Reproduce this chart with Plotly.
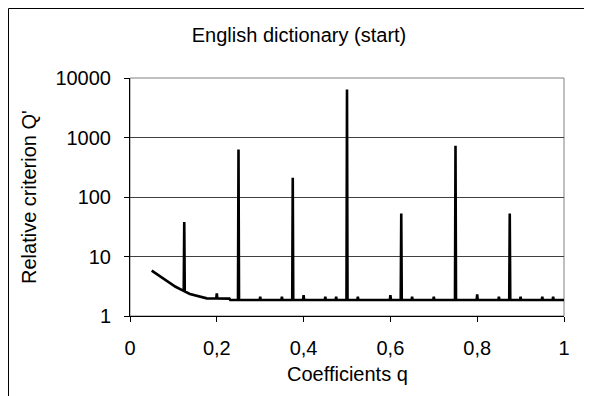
import numpy as np
import plotly.graph_objects as go

# Baseline (smooth part)
q_base = [0.05, 0.06, 0.069, 0.08, 0.092, 0.105, 0.119, 0.138, 0.161, 0.177, 0.229, 0.231, 1.0]
Q_base = [5.8, 5.15, 4.6, 4.05, 3.55, 3.1, 2.75, 2.34, 2.11, 1.98, 1.96, 1.86, 1.86]

# Spikes (q position, peak value)
spike_q = [0.125, 0.2, 0.25, 0.3, 0.35, 0.375, 0.4, 0.45, 0.475, 0.5, 0.525,
           0.6, 0.625, 0.65, 0.7, 0.75, 0.8, 0.85, 0.875, 0.9, 0.95, 0.975]
spike_Q = [38, 2.4, 630, 2.1, 2.1, 210, 2.25, 2.1, 2.1, 6400, 2.1,
           2.25, 53, 2.1, 2.1, 730, 2.3, 2.1, 53, 2.1, 2.1, 2.1]

x_ticks = [0, 0.2, 0.4, 0.6, 0.8, 1.0]
x_ticktext = ["0", "0,2", "0,4", "0,6", "0,8", "1"]
y_ticks = [1, 10, 100, 1000, 10000]
y_ticktext = ["1", "10", "100", "1000", "10000"]

# merge baseline and spikes into one line
pts = list(zip(q_base, Q_base))
logb = np.log10(Q_base)
dq = 0.0012
for q, v in zip(spike_q, spike_Q):
    for qq in (q - dq, q + dq):
        pts.append((qq, 10 ** np.interp(qq, q_base, logb)))
    pts.append((q, v))
pts.sort(key=lambda p: p[0])
xs = [p[0] for p in pts]
ys = [p[1] for p in pts]

FONT = "Liberation Sans, Arial, sans-serif"

fig = go.Figure()
fig.add_trace(go.Scatter(x=xs, y=ys, mode="lines",
                         line=dict(color="black", width=2.6),
                         showlegend=False, hoverinfo="skip"))

# page body has an 8px margin; figure coordinates are page coords - 8
OFF = 8
W, H = 592 - OFF, 396 - OFF
L, R, T, B = 130 - OFF, 564 - OFF, 78 - OFF, 316 - OFF
pw, ph = R - L, B - T

fig.update_layout(
    width=W, height=H,
    margin=dict(l=L, r=W - R, t=T, b=H - B),
    paper_bgcolor="white", plot_bgcolor="white",
    font=dict(family=FONT, size=20, color="black"),
    title=dict(text="English dictionary (start)", x=(299 - OFF) / W,
               y=1 - (35 - OFF) / H,
               xanchor="center", yanchor="middle",
               font=dict(family=FONT, size=20, color="black")),
    xaxis=dict(range=[0, 1], tickvals=x_ticks, ticktext=x_ticktext,
               showgrid=False, zeroline=False, showline=True,
               linecolor="black", linewidth=1, ticks="outside", ticklen=5,
               tickcolor="black", ticklabelstandoff=9,
               tickfont=dict(size=20)),
    yaxis=dict(type="log", range=[0, 4], tickvals=y_ticks, ticktext=y_ticktext,
               showgrid=True, gridcolor="#404040", gridwidth=1,
               zeroline=False, showline=True, linecolor="black", linewidth=1,
               ticks="outside", ticklen=5, tickcolor="black",
               ticklabelstandoff=9, tickfont=dict(size=20)),
    shapes=[
        dict(type="rect", xref="paper", yref="paper", x0=0, x1=1, y0=0, y1=1,
             line=dict(color="#808080", width=1), layer="below"),
        dict(type="rect", xref="paper", yref="paper",
             x0=(0.5 - L) / pw, x1=2, y0=-1, y1=(B - 0.5) / ph,
             line=dict(color="black", width=1), layer="below"),
    ],
    annotations=[
        dict(text="Relative criterion Q'", xref="paper", yref="paper",
             x=(29 - OFF - L) / pw, y=0.5, textangle=-90, showarrow=False,
             xanchor="center", yanchor="middle", font=dict(size=20)),
        dict(text="Coefficients q", xref="paper", yref="paper",
             x=(347 - OFF - L) / pw, y=(B - (374 - OFF)) / ph, showarrow=False,
             xanchor="center", yanchor="middle", font=dict(size=20)),
    ],
)

fig.write_html("out.html")
